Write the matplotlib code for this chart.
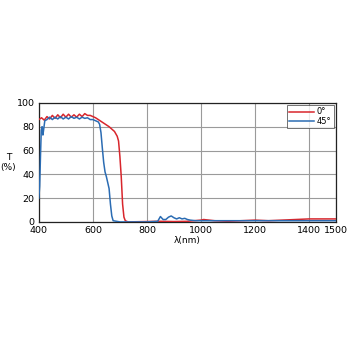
import matplotlib
matplotlib.use("Agg")
import matplotlib.pyplot as plt

# 0 deg curve
wl_0 = [400, 410, 420, 430, 440, 450, 460, 470, 480, 490, 500, 510, 520, 530,
        540, 550, 560, 570, 580, 590, 600, 610, 620, 640, 660, 680, 690, 695,
        700, 705, 710, 715, 720, 730, 800, 850, 900, 950, 1000, 1010, 1050,
        1100, 1150, 1200, 1250, 1300, 1350, 1400, 1450, 1500]
t_0 = [86, 87.5, 85.5, 88.5, 86.5, 89.5, 87, 90, 87.5, 90.5, 88, 90.5, 88, 90,
       88, 90.5, 88.5, 91, 89.5, 89.5, 88.5, 87.5, 86, 83, 80, 76, 72, 68,
       55, 38, 15, 4, 1, 0, 0.3, 0.5, 0.3, 0.5, 1.5, 2, 1,
       0.5, 1, 1.5, 1, 1.5, 2, 2.5, 2.5, 2.5]

# 45 deg curve
wl_45 = [400, 403, 406, 409, 412, 415, 418, 422, 430, 440, 450, 460, 470, 480,
         490, 500, 510, 520, 530, 540, 550, 560, 570, 580, 590, 600, 610, 620,
         625, 630, 635, 640, 645, 650, 655, 660, 665, 670, 675, 700, 800, 840,
         850, 860, 870, 880, 890, 900, 910, 920, 930, 940, 950, 960, 980, 1000,
         1100, 1200, 1300, 1400, 1500]
t_45 = [20, 30, 55, 77, 80, 73, 78, 85, 86, 88, 86, 88, 86.5, 88.5,
        86.5, 88, 86.5, 88.5, 87, 88, 86.5, 88, 87, 87.5, 86, 86, 85, 84,
        82, 75, 62, 50, 42, 38, 33, 28, 15, 5, 1, 0, 0, 0.5,
        4.5, 2, 2, 4, 5, 3.5, 2.5, 3.5, 2.5, 3, 2, 1.5, 1, 1,
        1, 1, 1, 1, 1]

fig = plt.figure(figsize=(3.5, 3.5), dpi=100)
ax = fig.add_axes([0.111, 0.366, 0.849, 0.34])

ax.plot(wl_0, t_0, color="#d8262c", lw=1.1, label="0°", zorder=3)
ax.plot(wl_45, t_45, color="#2b6cb3", lw=1.1, label="45°", zorder=3)

ax.set_xlim(400, 1500)
ax.set_ylim(0, 100)
ax.set_xticks([400, 600, 800, 1000, 1200, 1400, 1500])
ax.set_yticks([0, 20, 40, 60, 80, 100])
ax.grid(True, color="#9a9a9a", lw=0.8)
ax.tick_params(length=0, labelsize=6.8, pad=3)
for s in ax.spines.values():
    s.set_color("#222222")
    s.set_linewidth(0.9)

ax.set_xlabel("λ(nm)", fontsize=6.5, labelpad=1)
ax.set_ylabel("T\n(%)", fontsize=6.5, rotation=0, labelpad=6, va="center")

leg = ax.legend(loc="upper right", fontsize=6, frameon=True, fancybox=False,
                handlelength=3, borderpad=0.3, labelspacing=0.05,
                handletextpad=0.3, borderaxespad=0.25)
leg.get_frame().set_edgecolor("#333333")
leg.get_frame().set_linewidth(0.6)

fig.savefig("out.png", dpi=100)
